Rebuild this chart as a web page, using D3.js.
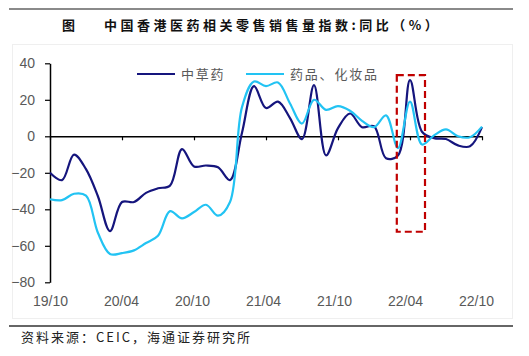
<!DOCTYPE html>
<html>
<head>
<meta charset="utf-8">
<script src="https://cdn.jsdelivr.net/npm/d3@7"></script>
<style>
  html, body { margin: 0; padding: 0; background: #fff; }
  svg { display: block; }
</style>
</head>
<body>
<svg id="chart" width="529" height="356"></svg>
<script>
// ---- data ----
const months = ["19/10","19/11","19/12","20/01","20/02","20/03","20/04","20/05","20/06","20/07","20/08","20/09",
  "20/10","20/11","20/12","21/01","21/02","21/03","21/04","21/05","21/06","21/07","21/08","21/09",
  "21/10","21/11","21/12","22/01","22/02","22/03","22/04","22/05","22/06","22/07","22/08","22/09","22/10"];
const herbal = [-20,-24,-10,-18,-33,-52,-36,-36,-31,-28.5,-27,-7,-16.5,-16,-17,-24,2,27.5,15.5,19,10,-1.5,28,-10.5,4.5,12.5,5,5.5,-12,-10.5,30.8,2.5,-1,-1.5,-5,-5.5,5];
const cosmetics = [-34.5,-35,-31.5,-32.5,-53,-64.5,-64,-62.5,-58.5,-54.5,-41,-45,-41.5,-37.5,-43.5,-36,16,30,27.5,29.5,18,7,20,14.5,16.5,14,8.5,5,11.5,-6.5,19,-4.5,0.5,3.8,0,-0.5,5.3];
const seriesNames = ["中草药", "药品、化妆品"];
const xTickLabels = ["19/10","20/04","20/10","21/04","21/10","22/04","22/10"];
const yTicks = [-80,-60,-40,-20,0,20,40];
const highlight = { from: 28.9, to: 31.25, top: 33.5, bottom: -52.3 };

const colors = ["#15157d", "#22c3f3"];

const svg = d3.select("#chart");
const x = d3.scaleLinear().domain([0, months.length - 1]).range([50, 482]);
const y = d3.scaleLinear().domain([-80, 40]).range([282.3, 63.3]);

// faint frame
svg.append("rect").attr("x", 12.5).attr("y", 44.5).attr("width", 500).attr("height", 274)
  .attr("fill", "none").attr("stroke", "#efefef").attr("stroke-width", 1);

// top and bottom rules
svg.append("line").attr("x1", 9).attr("x2", 513).attr("y1", 9).attr("y2", 9)
  .attr("stroke", "#8a8a8a").attr("stroke-width", 2);
svg.append("line").attr("x1", 9).attr("x2", 513).attr("y1", 326).attr("y2", 326)
  .attr("stroke", "#333").attr("stroke-width", 1.5);

// title
svg.append("text").attr("x", 62).attr("y", 30)
  .attr("font-family", "Noto Sans CJK SC").attr("font-weight", "bold").attr("font-size", 13)
  .attr("fill", "#111").text("图");
svg.append("text").attr("x", 104).attr("y", 30)
  .attr("font-family", "Noto Sans CJK SC").attr("font-weight", "bold").attr("font-size", 13)
  .attr("letter-spacing", 3.5).attr("fill", "#111").text("中国香港医药相关零售销售量指数:同比（%）");

// source
svg.append("text").attr("x", 21).attr("y", 342)
  .attr("font-family", "Noto Sans CJK SC").attr("font-size", 13).attr("letter-spacing", 2)
  .attr("fill", "#222").text("资料来源：CEIC，海通证券研究所");

// y axis
const yAxis = svg.append("g").attr("transform", `translate(${x(0)},0)`)
  .call(d3.axisLeft(y).tickValues(yTicks).tickSize(5).tickSizeOuter(0).tickPadding(10));
yAxis.select(".domain").attr("stroke", "#000").attr("stroke-width", 1.5);
yAxis.selectAll(".tick line").attr("stroke", "#000").attr("stroke-width", 1.2);
yAxis.selectAll(".tick text").attr("font-family", "Liberation Sans, Arial, sans-serif")
  .attr("font-size", 14).attr("fill", "#595959");

// x axis at zero
const tickIdx = xTickLabels.map(l => months.indexOf(l));
const xAxis = svg.append("g").attr("transform", `translate(0,${y(0)})`)
  .call(d3.axisBottom(x).tickValues(tickIdx).tickSize(4).tickSizeOuter(0)
    .tickFormat((d) => months[d]));
xAxis.select(".domain").attr("stroke", "#000").attr("stroke-width", 1.5);
xAxis.selectAll(".tick line").attr("stroke", "#000").attr("stroke-width", 1.2);
xAxis.selectAll(".tick text").attr("font-family", "Liberation Sans, Arial, sans-serif")
  .attr("font-size", 14).attr("fill", "#595959")
  .attr("y", 306 - y(0)).attr("dy", 0).attr("dx", (d, i) => -i * 1);

// lines
const line = d3.line().x((d, i) => x(i)).y(d => y(d)).curve(d3.curveCatmullRom.alpha(0.5));
[herbal, cosmetics].forEach((s, k) => {
  svg.append("path").datum(s).attr("d", line).attr("fill", "none")
    .attr("stroke", colors[k]).attr("stroke-width", 2.2).attr("stroke-linejoin", "round");
});

// legend
const legendX = [137, 246];
seriesNames.forEach((n, k) => {
  svg.append("line").attr("x1", legendX[k]).attr("x2", legendX[k] + 38).attr("y1", 74).attr("y2", 74)
    .attr("stroke", colors[k]).attr("stroke-width", 2.2);
  svg.append("text").attr("x", legendX[k] + 44).attr("y", 79)
    .attr("font-family", "Noto Sans CJK SC").attr("font-size", 13).attr("letter-spacing", 1.8)
    .attr("fill", "#595959").text(n);
});

// highlight box
svg.append("rect")
  .attr("x", x(highlight.from)).attr("y", y(highlight.top))
  .attr("width", x(highlight.to) - x(highlight.from)).attr("height", y(highlight.bottom) - y(highlight.top))
  .attr("fill", "none").attr("stroke", "#c00000").attr("stroke-width", 2.2).attr("stroke-dasharray", "7,4");
</script>
</body>
</html>
